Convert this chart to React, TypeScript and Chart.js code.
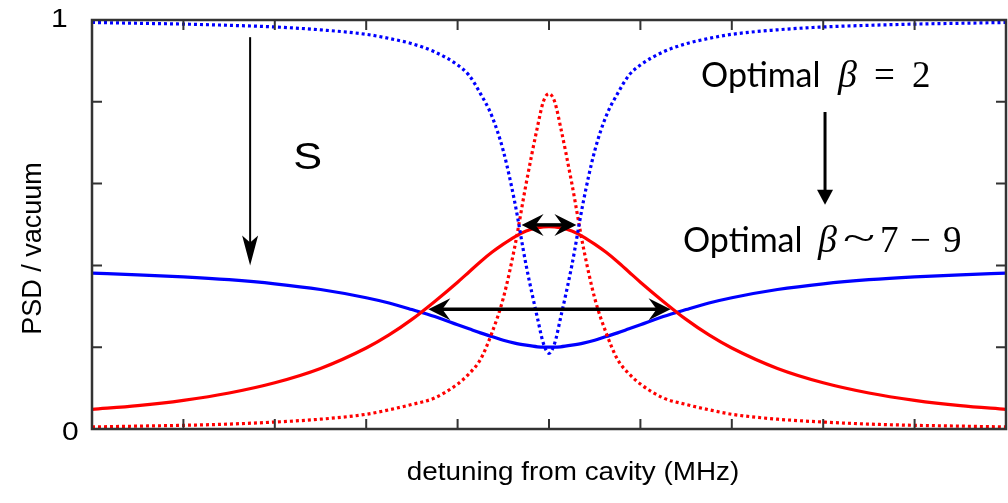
import React, { useEffect, useRef } from "react";
import { Chart, registerables } from "chart.js";

Chart.register(...registerables);

// ---- data ----
const detuning = [
  -5, -4.5, -4, -3.5, -3, -2.5, -2, -1.75, -1.5, -1.25, -1, -0.875, -0.75, -0.625, -0.5, -0.375, -0.25, -0.125, -0.0625,
  0,
  0.0625, 0.125, 0.25, 0.375, 0.5, 0.625, 0.75, 0.875, 1, 1.25, 1.5, 1.75, 2, 2.5, 3, 3.5, 4, 4.5, 5,
];

const blueDotted = [
  0.994, 0.992, 0.99, 0.987, 0.983, 0.976, 0.965, 0.955, 0.942, 0.922, 0.89, 0.865, 0.82, 0.765, 0.68, 0.555, 0.4, 0.27, 0.21,
  0.185,
  0.21, 0.27, 0.4, 0.555, 0.68, 0.765, 0.82, 0.865, 0.89, 0.922, 0.942, 0.955, 0.965, 0.976, 0.983, 0.987, 0.99, 0.992, 0.994,
];

const redDotted = [
  0.005, 0.007, 0.009, 0.012, 0.017, 0.024, 0.036, 0.047, 0.06, 0.076, 0.11, 0.135, 0.17, 0.235, 0.32, 0.445, 0.6, 0.74, 0.8,
  0.82,
  0.8, 0.74, 0.6, 0.445, 0.32, 0.235, 0.17, 0.135, 0.11, 0.076, 0.06, 0.047, 0.036, 0.024, 0.017, 0.012, 0.009, 0.007, 0.005,
];

const redSolid = [
  0.048, 0.057, 0.07, 0.088, 0.113, 0.148, 0.198, 0.23, 0.268, 0.312, 0.359, 0.384, 0.409, 0.432, 0.452, 0.47, 0.484, 0.492, 0.494,
  0.495,
  0.494, 0.492, 0.484, 0.47, 0.452, 0.432, 0.409, 0.384, 0.359, 0.312, 0.268, 0.23, 0.198, 0.148, 0.113, 0.088, 0.07, 0.057, 0.048,
];

const blueSolid = [
  0.381, 0.377, 0.372, 0.365, 0.355, 0.341, 0.321, 0.308, 0.292, 0.275, 0.255, 0.245, 0.235, 0.226, 0.217, 0.21, 0.205, 0.201, 0.2,
  0.2,
  0.2, 0.201, 0.205, 0.21, 0.217, 0.226, 0.235, 0.245, 0.255, 0.275, 0.292, 0.308, 0.321, 0.341, 0.355, 0.365, 0.372, 0.377, 0.381,
];

const xTicks = [-4, -3, -2, -1, 0, 1, 2, 3, 4];
const yTicks = [0.2, 0.4, 0.6, 0.8];
const yTickLabels = ["0", "1"];

// annotation anchors in data units
const arrowS = { x: -3.27, yFrom: 0.958, yTo: 0.4 };
const labelS = { x: -2.64, y: 0.636, text: "S" };
const labelBeta2 = { x: 1.663, y: 0.836 };
const arrowBeta = { x: 3.02, yFrom: 0.775, yTo: 0.548 };
const labelBeta79 = { x: 1.466, y: 0.433 };
const narrowWidth = { x1: -0.3, x2: 0.3, y: 0.499 };
const broadWidth = { x1: -1.32, x2: 1.33, y: 0.293 };

const xTitle = "detuning from cavity (MHz)";
const yTitle = "PSD / vacuum";

function stretchedText(ctx: CanvasRenderingContext2D, text: string, x: number, y: number, font: string, align: CanvasTextAlign, sx: number) {
  ctx.save();
  ctx.translate(x, y);
  ctx.scale(sx, 1);
  ctx.font = font;
  ctx.textAlign = align;
  ctx.textBaseline = "alphabetic";
  ctx.fillText(text, 0, 0);
  ctx.restore();
}

function head(ctx: CanvasRenderingContext2D, tx: number, ty: number, dx: number, dy: number, len: number, half: number, notch: number) {
  const px = -dy, py = dx;
  const bx = tx - dx * len, by = ty - dy * len;
  ctx.beginPath();
  ctx.moveTo(tx, ty);
  ctx.lineTo(bx + px * half, by + py * half);
  ctx.lineTo(tx - dx * (len - notch), ty - dy * (len - notch));
  ctx.lineTo(bx - px * half, by - py * half);
  ctx.closePath();
  ctx.fill();
}

const overlay = {
  id: "overlay",
  afterDatasetsDraw(chart: any) {
    const { ctx, chartArea: a, scales } = chart;
    const X = (v: number) => scales.x.getPixelForValue(v);
    const Y = (v: number) => scales.y.getPixelForValue(v);
    ctx.save();

    // frame + inward ticks
    ctx.strokeStyle = "#333333";
    ctx.lineWidth = 2.5;
    ctx.strokeRect(a.left, a.top, a.right - a.left, a.bottom - a.top);
    ctx.lineWidth = 2;
    ctx.beginPath();
    for (const t of xTicks) {
      const p = X(t);
      ctx.moveTo(p, a.top);
      ctx.lineTo(p, a.top + 10);
      ctx.moveTo(p, a.bottom);
      ctx.lineTo(p, a.bottom - 10);
    }
    for (const t of yTicks) {
      const p = Y(t);
      ctx.moveTo(a.left, p);
      ctx.lineTo(a.left + 10, p);
      ctx.moveTo(a.right, p);
      ctx.lineTo(a.right - 10, p);
    }
    ctx.stroke();

    ctx.fillStyle = "#000";
    ctx.strokeStyle = "#000";

    // tick labels
    stretchedText(ctx, yTickLabels[0], a.left - 30, Y(0) + 11, '25px "Liberation Sans", Arial, sans-serif', "left", 1.2);
    stretchedText(ctx, yTickLabels[1], a.left - 41, Y(1) + 7, '25px "Liberation Sans", Arial, sans-serif', "left", 1.2);

    // axis titles
    stretchedText(ctx, xTitle, (a.left + a.right) / 2 + 24, a.bottom + 51, '26px "Liberation Sans", Arial, sans-serif', "center", 1.07);
    ctx.save();
    ctx.translate(41, (a.top + a.bottom) / 2 + 24);
    ctx.rotate(-Math.PI / 2);
    ctx.font = '27px "Liberation Sans", Arial, sans-serif';
    ctx.textAlign = "center";
    ctx.textBaseline = "alphabetic";
    ctx.fillText(yTitle, 0, 0);
    ctx.restore();

    // S arrow
    {
      const x = X(arrowS.x), y0 = Y(arrowS.yFrom), y1 = Y(arrowS.yTo);
      ctx.lineWidth = 2;
      ctx.beginPath();
      ctx.moveTo(x, y0);
      ctx.lineTo(x, y1 - 12);
      ctx.stroke();
      head(ctx, x, y1, 0, 1, 30, 8, 7);
    }
    stretchedText(ctx, labelS.text, X(labelS.x), Y(labelS.y), '36px "Liberation Sans", Arial, sans-serif', "center", 1.2);

    // Optimal beta labels
    const sans = '34px Lato, "Open Sans", sans-serif';
    const ital = 'italic 38px "Liberation Serif", "DejaVu Serif", serif';
    const math = '37px "Liberation Serif", "DejaVu Serif", serif';
    ctx.textAlign = "left";
    ctx.textBaseline = "alphabetic";
    {
      const x = X(labelBeta2.x), y = Y(labelBeta2.y);
      ctx.font = sans; ctx.fillText("Optimal", x, y);
      ctx.font = ital; ctx.fillText("β", x + 137, y);
      ctx.font = math; ctx.fillText("=", x + 173, y);
      ctx.fillText("2", x + 211, y);
    }
    {
      const x = X(labelBeta79.x), y = Y(labelBeta79.y);
      ctx.font = sans; ctx.fillText("Optimal", x, y);
      ctx.font = ital; ctx.fillText("β", x + 135, y);
      stretchedText(ctx, "~", x + 160, y - 2, math, "left", 1.6);
      ctx.textAlign = "left";
      ctx.font = math; ctx.fillText("7", x + 197, y);
      ctx.fillText("−", x + 227, y);
      ctx.fillText("9", x + 260, y);
    }

    // beta arrow
    {
      const x = X(arrowBeta.x), y0 = Y(arrowBeta.yFrom), y1 = Y(arrowBeta.yTo);
      ctx.lineWidth = 3;
      ctx.beginPath();
      ctx.moveTo(x, y0);
      ctx.lineTo(x, y1 - 10);
      ctx.stroke();
      head(ctx, x, y1, 0, 1, 15, 8, 0);
    }

    // width double arrows
    for (const w of [narrowWidth, broadWidth]) {
      const x1 = X(w.x1), x2 = X(w.x2), y = Y(w.y);
      ctx.lineWidth = 3.5;
      ctx.beginPath();
      ctx.moveTo(x1 + 12, y);
      ctx.lineTo(x2 - 12, y);
      ctx.stroke();
      head(ctx, x1, y, -1, 0, 22, 11, 8);
      head(ctx, x2, y, 1, 0, 22, 11, 8);
    }

    ctx.restore();
  },
};

const toPts = (ys: number[]) => detuning.map((x, i) => ({ x, y: ys[i] }));

export default function App() {
  const ref = useRef<HTMLCanvasElement | null>(null);
  useEffect(() => {
    if (!ref.current) return;
    const chart = new Chart(ref.current, {
      type: "line",
      data: {
        datasets: [
          { label: "blue dotted", data: toPts(blueDotted), borderColor: "#0000ff", borderWidth: 3.2, borderDash: [3, 3], pointRadius: 0 },
          { label: "red dotted", data: toPts(redDotted), borderColor: "#ff0000", borderWidth: 3.2, borderDash: [3, 3], pointRadius: 0 },
          { label: "red solid", data: toPts(redSolid), borderColor: "#ff0000", borderWidth: 3.2, pointRadius: 0 },
          { label: "blue solid", data: toPts(blueSolid), borderColor: "#0000ff", borderWidth: 3.2, pointRadius: 0 },
        ],
      },
      options: {
        animation: false,
        responsive: false,
        events: [],
        layout: { padding: { left: 92, top: 20, right: 2, bottom: 74 } },
        elements: { line: { cubicInterpolationMode: "monotone", fill: false }, point: { radius: 0 } },
        plugins: { legend: { display: false }, tooltip: { enabled: false } },
        scales: {
          x: { type: "linear", min: -5, max: 5, display: false },
          y: { type: "linear", min: 0, max: 1, display: false },
        },
      },
      plugins: [overlay],
    } as any);
    return () => chart.destroy();
  }, []);
  return (
    <canvas
      ref={ref}
      width={1008}
      height={503}
      style={{ position: "absolute", left: 0, top: 0, width: 1008, height: 503, display: "block", background: "#fff" }}
    />
  );
}
